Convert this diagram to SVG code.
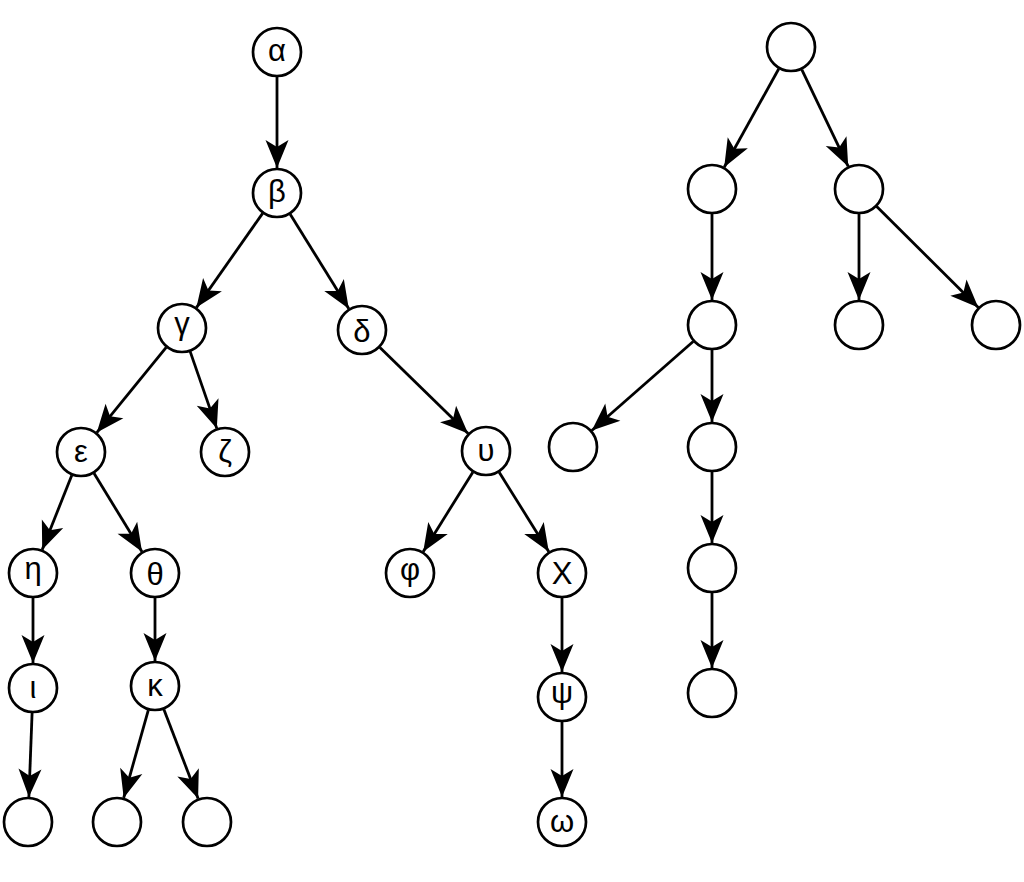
<svg xmlns="http://www.w3.org/2000/svg" width="1024" height="882" viewBox="0 0 1024 882">
<style>
.n circle{fill:#fff;stroke:#000;stroke-width:2.7}
.n text{font-family:"Liberation Sans",Arial,sans-serif;font-size:31px;text-anchor:middle;fill:#000}
#edges line{stroke:#000;stroke-width:2.8;marker-end:url(#arr)}
</style>
<defs>
<marker id="arr" markerUnits="userSpaceOnUse" viewBox="-30 -13 31 26" markerWidth="31" markerHeight="26" refX="0" refY="0" orient="auto">
<path d="M0,0 L-28,-11.5 L-21,0 L-28,11.5 Z" fill="#000"/>
</marker>
</defs>
<rect width="1024" height="882" fill="#fff"/>
<g id="edges">
<line x1="277" y1="77" x2="277" y2="168"/>
<line x1="262.6" y1="213.4" x2="196.4" y2="307.6"/>
<line x1="290.2" y1="214.2" x2="348.8" y2="308.8"/>
<line x1="166.2" y1="347.4" x2="96.8" y2="432.6"/>
<line x1="190.2" y1="351.6" x2="216.8" y2="428.4"/>
<line x1="379.9" y1="347.5" x2="468.1" y2="433.5"/>
<line x1="71.8" y1="475.2" x2="42.2" y2="549.8"/>
<line x1="94" y1="473.3" x2="142" y2="551.7"/>
<line x1="472.8" y1="472.2" x2="423.2" y2="551.8"/>
<line x1="499.2" y1="472.2" x2="548.8" y2="551.8"/>
<line x1="33" y1="598" x2="33" y2="663"/>
<line x1="155" y1="598" x2="155" y2="661"/>
<line x1="562" y1="598" x2="562" y2="672"/>
<line x1="562" y1="722" x2="562" y2="797"/>
<line x1="32.1" y1="713" x2="28.9" y2="797"/>
<line x1="148.3" y1="710.1" x2="123.7" y2="797.9"/>
<line x1="163.9" y1="709.4" x2="198.1" y2="798.6"/>
<line x1="778.8" y1="68.8" x2="724.2" y2="167.2"/>
<line x1="801.8" y1="69.6" x2="848.2" y2="166.4"/>
<line x1="712" y1="214" x2="712" y2="300"/>
<line x1="859" y1="214" x2="859" y2="300"/>
<line x1="876.7" y1="206.6" x2="978.3" y2="307.4"/>
<line x1="693.2" y1="341.5" x2="591.8" y2="430.5"/>
<line x1="712" y1="350" x2="712" y2="422"/>
<line x1="712" y1="472" x2="712" y2="543"/>
<line x1="712" y1="593" x2="712" y2="668"/>
</g>
<g id="alpha" class="n"><circle cx="277" cy="52" r="24"/><text x="277" y="61">α</text></g>
<g id="beta" class="n"><circle cx="277" cy="193" r="24"/><text x="277" y="202">β</text></g>
<g id="gamma" class="n"><circle cx="182" cy="328" r="24"/><text x="182" y="333.5">γ</text></g>
<g id="delta" class="n"><circle cx="362" cy="330" r="24"/><text x="362" y="341.5">δ</text></g>
<g id="epsilon" class="n"><circle cx="81" cy="452" r="24"/><text x="81" y="461.5">ε</text></g>
<g id="zeta" class="n"><circle cx="225" cy="452" r="24"/><text x="225" y="462">ζ</text></g>
<g id="upsilon" class="n"><circle cx="486" cy="451" r="24"/><text x="486" y="461">υ</text></g>
<g id="eta" class="n"><circle cx="33" cy="573" r="24"/><text x="33" y="579">η</text></g>
<g id="theta" class="n"><circle cx="155" cy="573" r="24"/><text x="155" y="584.5">θ</text></g>
<g id="phi" class="n"><circle cx="410" cy="573" r="24"/><text x="410" y="579.5">φ</text></g>
<g id="chi" class="n"><circle cx="562" cy="573" r="24"/><text x="562" y="584">Χ</text></g>
<g id="iota" class="n"><circle cx="33" cy="688" r="24"/><text x="33" y="698">ι</text></g>
<g id="kappa" class="n"><circle cx="155" cy="686" r="24"/><text x="155" y="695.5">κ</text></g>
<g id="psi" class="n"><circle cx="562" cy="697" r="24"/><text x="562" y="702.5">ψ</text></g>
<g id="omega" class="n"><circle cx="562" cy="822" r="24"/><text x="562" y="831.5">ω</text></g>
<g id="leaf1" class="n"><circle cx="28" cy="822" r="24"/></g>
<g id="leaf2" class="n"><circle cx="117" cy="822" r="24"/></g>
<g id="leaf3" class="n"><circle cx="207" cy="822" r="24"/></g>
<g id="r0" class="n"><circle cx="791" cy="47" r="24"/></g>
<g id="r1" class="n"><circle cx="712" cy="189" r="24"/></g>
<g id="r2" class="n"><circle cx="859" cy="189" r="24"/></g>
<g id="r3" class="n"><circle cx="712" cy="325" r="24"/></g>
<g id="r4" class="n"><circle cx="859" cy="325" r="24"/></g>
<g id="r5" class="n"><circle cx="996" cy="325" r="24"/></g>
<g id="r6" class="n"><circle cx="573" cy="447" r="24"/></g>
<g id="r7" class="n"><circle cx="712" cy="447" r="24"/></g>
<g id="r8" class="n"><circle cx="712" cy="568" r="24"/></g>
<g id="r9" class="n"><circle cx="712" cy="693" r="24"/></g>
</svg>
